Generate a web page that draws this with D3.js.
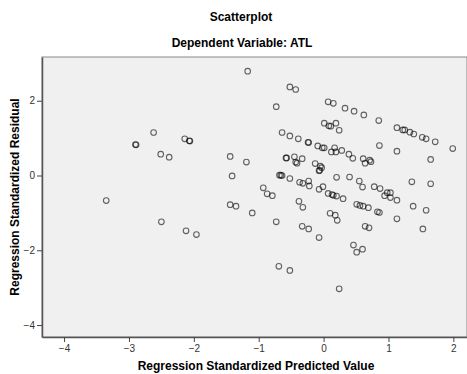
<!DOCTYPE html>
<html>
<head>
<meta charset="utf-8">
<script src="https://d3js.org/d3.v7.min.js"></script>
<style>
  body { margin: 0; background: #fff; }
  text { font-family: "Liberation Sans", Arial, sans-serif; }
</style>
</head>
<body>
<svg id="chart"></svg>
<script>
  // Regression standardized predicted values (x) and residuals (y)
  const predicted = [
    -3.35, -2.90, -2.89, -2.62, -2.51, -2.38, -2.50, -2.14, -2.06, -2.07, -2.12, -1.96,
    -1.44, -1.41, -1.44, -1.35, -1.17, -0.52, -0.43, -0.73, -0.64, -0.52, -0.39, -0.24,
    -0.23, -1.19, -0.58, -0.57, -0.45, -0.33, -0.43, -0.41, -0.68, -0.64, -0.66, -0.52,
    -0.37, -0.32, -0.23, -0.22, -0.93, -0.87, -0.79, -0.38, -0.32, -1.10, -0.73, -0.33,
    -0.23, -0.69, -0.52, 0.07, 0.15, 0.33, 0.01, 0.08, 0.11, 0.19, 0.24, -0.09,
    -0.02, 0.01, 0.17, 0.12, 0.19, 0.28, 0.39, -0.13, -0.05, -0.03, -0.07, -0.06,
    0.47, 0.62, 0.85, 1.13, 1.22, 1.25, 1.33, 1.39, 1.52, 1.58, 1.72, 1.99,
    0.86, 1.13, 1.65, 0.45, 0.61, 0.64, 0.71, 0.73, 0.20, 0.40, 0.55, 0.60,
    0.78, 0.87, 0.98, 1.03, 0.94, 1.03, 1.13, 1.36, 1.65, -0.07, -0.01, 0.07,
    0.13, 0.15, 0.20, 0.30, 0.51, 0.56, 0.61, 0.69, 1.38, 1.58, 0.83, 0.86,
    1.13, 0.64, 0.70, 1.53, 0.46, 0.51, 0.60, -0.07, 0.10, 0.18, 0.21, 0.24
  ];
  const residual = [
    -0.67, 0.83, 0.82, 1.15, 0.57, 0.49, -1.24, 0.98, 0.92, 0.93, -1.48, -1.58,
    0.51, -0.01, -0.78, -0.82, 2.79, 2.37, 2.30, 1.84, 1.15, 1.06, 0.98, 0.89,
    0.88, 0.36, 0.47, 0.47, 0.50, 0.45, 0.36, 0.33, 0.01, 0.00, 0.01, -0.08,
    -0.18, -0.21, -0.15, -0.28, -0.33, -0.49, -0.54, -0.69, -0.85, -1.00, -1.24, -1.36,
    -1.43, -2.43, -2.54, 1.97, 1.93, 1.80, 1.40, 1.33, 1.32, 1.40, 1.21, 0.79,
    0.74, 0.74, 0.74, 0.63, 0.63, 0.67, 0.57, 0.32, 0.25, 0.21, 0.13, 0.14,
    1.72, 1.62, 1.47, 1.28, 1.22, 1.22, 1.16, 1.11, 1.02, 0.98, 0.90, 0.72,
    0.80, 0.65, 0.43, 0.46, 0.45, 0.33, 0.41, 0.37, -0.05, -0.04, -0.15, -0.31,
    -0.30, -0.35, -0.46, -0.46, -0.54, -0.59, -0.66, -0.17, -0.22, -0.37, -0.30, -0.48,
    -0.51, -0.53, -0.55, -0.62, -0.77, -0.80, -0.82, -0.86, -0.82, -0.93, -0.97, -0.99,
    -1.16, -1.36, -1.40, -1.43, -1.86, -2.05, -1.97, -1.66, -1.01, -1.06, -1.20, -3.03
  ];
  const xTicks = [-4, -3, -2, -1, 0, 1, 2];
  const yTicks = [-4, -2, 0, 2];

  const width = 467;
  const height = 374;
  const plot = { left: 42, right: 467, top: 57, bottom: 337 };

  const svg = d3.select("#chart")
    .attr("width", width)
    .attr("height", height);

  const x = d3.scaleLinear().domain([-4.34, 2.21]).range([plot.left, plot.right]);
  const y = d3.scaleLinear().domain([-4.32, 3.17]).range([plot.bottom, plot.top]);

  // Plot background
  svg.append("rect")
    .attr("x", plot.left)
    .attr("y", plot.top)
    .attr("width", plot.right - plot.left)
    .attr("height", plot.bottom - plot.top)
    .attr("fill", "#f0f0f0")
    .attr("stroke", "#888")
    .attr("stroke-width", 1);

  // Axes
  const xAxis = svg.append("g")
    .attr("transform", `translate(0,${plot.bottom})`)
    .call(d3.axisBottom(x).tickValues(xTicks).tickSize(5).tickSizeOuter(0).tickPadding(3).tickFormat(d3.format("d")));
  const yAxis = svg.append("g")
    .attr("transform", `translate(${plot.left},0)`)
    .call(d3.axisLeft(y).tickValues(yTicks).tickSize(5).tickSizeOuter(0).tickPadding(2).tickFormat(d3.format("d")));

  [xAxis, yAxis].forEach(g => {
    g.select(".domain").attr("stroke", "#555").attr("stroke-width", 1.5);
    g.selectAll(".tick line").attr("stroke", "#444");
    g.selectAll(".tick text")
      .attr("fill", "#333")
      .style("font-size", "10px")
      .style("font-family", "'Liberation Sans', Arial, sans-serif");
  });

  // Points
  const points = predicted.map((v, i) => ({ x: v, y: residual[i] }));
  svg.append("g")
    .selectAll("circle")
    .data(points)
    .enter()
    .append("circle")
    .attr("cx", d => x(d.x))
    .attr("cy", d => y(d.y))
    .attr("r", 2.8)
    .attr("fill", "none")
    .attr("stroke", "#000")
    .attr("stroke-opacity", 0.6)
    .attr("stroke-width", 1.1);

  // Titles
  svg.append("text")
    .attr("x", 241).attr("y", 21)
    .attr("text-anchor", "middle")
    .style("font-size", "12px").style("font-weight", "bold")
    .text("Scatterplot");
  svg.append("text")
    .attr("x", 242).attr("y", 47)
    .attr("text-anchor", "middle")
    .style("font-size", "12px").style("font-weight", "bold")
    .text("Dependent Variable: ATL");

  // Axis labels
  svg.append("text")
    .attr("x", 256).attr("y", 370)
    .attr("text-anchor", "middle")
    .style("font-size", "12px").style("font-weight", "bold")
    .text("Regression Standardized Predicted Value");
  svg.append("text")
    .attr("transform", `translate(19,${(plot.top + plot.bottom) / 2}) rotate(-90)`)
    .attr("text-anchor", "middle")
    .style("font-size", "12px").style("font-weight", "bold")
    .text("Regression Standardized Residual");
</script>
</body>
</html>
